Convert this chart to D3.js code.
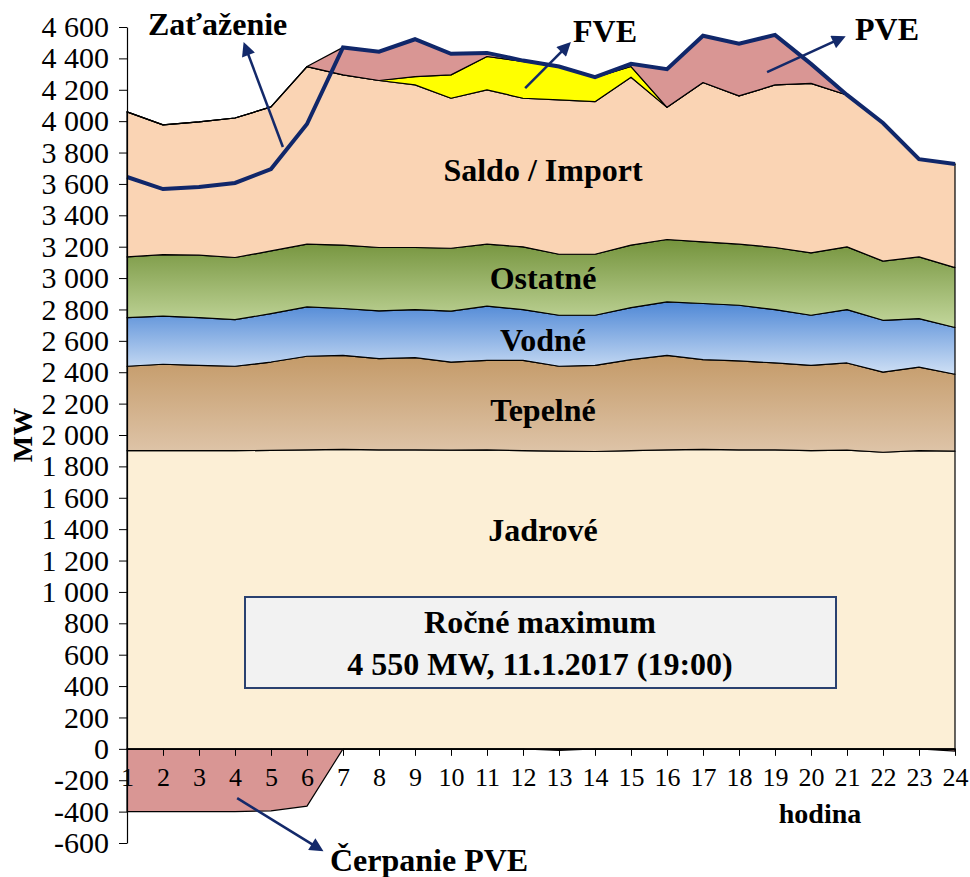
<!DOCTYPE html>
<html><head><meta charset="utf-8">
<script src="https://cdn.jsdelivr.net/npm/d3@7"></script>
<style>body{margin:0;background:#fff} svg{display:block}</style>
</head><body><svg id="c" width="970" height="877"></svg>
<script>
// ---- DATA (MW per hour) ----
const hours = d3.range(1, 25);
const jadrove   = [1900,1900,1900,1900,1902,1905,1908,1905,1905,1903,1905,1900,1897,1895,1900,1905,1908,1905,1905,1900,1903,1890,1900,1897];
const tepelne   = [538,551,544,538,563,597,600,582,588,562,571,576,541,549,580,603,572,567,554,544,556,511,533,490];
const vodne     = [310,306,304,297,308,314,298,304,306,324,345,323,325,319,332,340,358,355,340,319,340,330,309,298];
const ostatne   = [387,392,398,396,400,400,404,404,396,401,395,400,389,389,398,398,393,389,396,398,400,377,393,382];
const saldo     = [924,827,849,889,918,1132,1085,1064,1036,956,983,947,983,972,1070,842,1015,945,1036,1080,968,880,623,660];
const fve       = [0,0,0,0,0,0,0,0,53,149,213,234,213,154,68,0,0,0,0,0,0,0,0,0];
const pve       = [0,0,0,0,0,0,175,184,238,134,20,5,0,0,17,243,298,332,319,124,0,0,0,0];
const cerpanie  = [-400,-400,-400,-400,-395,-365,0,0,0,0,0,0,-10,0,0,0,0,0,0,0,0,0,0,-15];
const zatazenie = [3644,3567,3580,3606,3695,3982,4470,4443,4522,4429,4435,4386,4348,4280,4365,4331,4544,4493,4550,4365,4167,3988,3758,3727];
const yTickValues = d3.range(-600, 4601, 200);
const seriesNames = {jadrove:"Jadrové", tepelne:"Tepelné", vodne:"Vodné", ostatne:"Ostatné", saldo:"Saldo / Import", fve:"FVE", pve:"PVE"};

const table = hours.map((h, i) => ({hodina: h, jadrove: jadrove[i], tepelne: tepelne[i], vodne: vodne[i],
  ostatne: ostatne[i], saldo: saldo[i], fve: fve[i], pve: pve[i], cerpanie: cerpanie[i], zatazenie: zatazenie[i]}));

// ---- SETUP ----
const svg = d3.select("#c");
const x = d3.scalePoint().domain(hours).range([127, 955]);
const xl = d3.scaleLinear().domain([1, 24]).range([127, 955]);
const y = d3.scaleLinear().domain([-600, 4600]).range([843, 27]);
const loc = d3.formatLocale({decimal: ",", thousands: "\u00a0", grouping: [3], currency: ["", " €"], minus: "-"});
const fmt = loc.format(",");
const serif = "'Liberation Serif','Times New Roman',serif";

const defs = svg.append("defs");
function grad(id, top, bottom) {
  const g = defs.append("linearGradient").attr("id", id).attr("x1", 0).attr("y1", 0).attr("x2", 0).attr("y2", 1);
  g.append("stop").attr("offset", "0%").attr("stop-color", top);
  g.append("stop").attr("offset", "100%").attr("stop-color", bottom);
}
grad("gOst", "#74933c", "#c3d79c");
grad("gVod", "#4f88d6", "#cfe0f5");
grad("gTep", "#c49a68", "#dec4a8");
defs.append("marker").attr("id", "arr").attr("viewBox", "0 0 10 10").attr("refX", 7).attr("refY", 5)
  .attr("markerWidth", 6).attr("markerHeight", 5.5).attr("orient", "auto").attr("markerUnits", "strokeWidth")
  .append("path").attr("d", "M0,0L10,5L0,10z").attr("fill", "#13296a");

const keys = ["jadrove", "tepelne", "vodne", "ostatne", "saldo", "fve", "pve"];
const fills = {jadrove: "#fcefd6", tepelne: "url(#gTep)", vodne: "url(#gVod)", ostatne: "url(#gOst)",
  saldo: "#fad4b4", fve: "#ffff00", pve: "#d99694"};
const stack = d3.stack().keys(keys)(table);

const area = d3.area().x(d => x(d.data.hodina)).y0(d => y(d[0])).y1(d => y(d[1]));
svg.append("g").selectAll("path").data(stack).join("path")
  .attr("d", area).attr("fill", d => fills[d.key])
  .attr("stroke", "#000").attr("stroke-width", 1.2).attr("stroke-linejoin", "round");

// pumping (negative)
svg.append("path").datum(table)
  .attr("d", d3.area().x(d => x(d.hodina)).y0(y(0)).y1(d => y(d.cerpanie)))
  .attr("fill", "#d99694").attr("stroke", "#000").attr("stroke-width", 1.2);

// load line
svg.append("path").datum(table)
  .attr("d", d3.line().x(d => x(d.hodina)).y(d => y(d.zatazenie)))
  .attr("fill", "none").attr("stroke", "#10276a").attr("stroke-width", 4).attr("stroke-linejoin", "miter");

// axes
const yAxis = svg.append("g").attr("transform", `translate(127,0)`)
  .call(d3.axisLeft(y).tickValues(yTickValues).tickFormat(fmt).tickSize(8).tickPadding(10).tickSizeOuter(0));
yAxis.select(".domain").attr("stroke", "#000").attr("stroke-width", 1.2);
yAxis.selectAll("text").attr("font-family", serif).attr("font-size", 30).attr("fill", "#000");

const xAxis = svg.append("g").attr("transform", `translate(0,${y(0)})`)
  .call(d3.axisBottom(x).tickSize(7).tickPadding(12).tickSizeOuter(0));
xAxis.select(".domain").attr("stroke", "#000").attr("stroke-width", 1.2);
xAxis.selectAll("text").attr("font-family", serif).attr("font-size", 26).attr("fill", "#000");

// labels
function label(t, px, py, size = 32, anchor = "middle") {
  return svg.append("text").attr("x", px).attr("y", py).attr("text-anchor", anchor)
    .attr("font-family", serif).attr("font-weight", "bold").attr("font-size", size).attr("fill", "#000").text(t);
}
label(seriesNames.saldo, 543, 181);
label(seriesNames.ostatne, 543, 289);
label(seriesNames.vodne, 543, 351);
label(seriesNames.tepelne, 543, 421);
label(seriesNames.jadrove, 543, 541);
label("Zaťaženie", 148, 35, 32, "start");
label(seriesNames.fve, 573, 42, 32, "start");
label(seriesNames.pve, 855, 40, 32, "start");
label("Čerpanie PVE", 330, 871, 32, "start");
label("hodina", 820, 823, 28);
svg.append("text").attr("transform", "translate(32,435) rotate(-90)").attr("text-anchor", "middle")
  .attr("font-family", serif).attr("font-weight", "bold").attr("font-size", 28).text("MW");

// arrows
const arrows = [
  [[5.33, 3835], [4.28, 4479]],
  [[12.06, 4211], [13.25, 4485]],
  [[18.78, 4313], [20.86, 4530]],
  [[4.06, -314], [6.36, -639]]
];
arrows.forEach(([a, b]) => {
  svg.append("line").attr("x1", xl(a[0])).attr("y1", y(a[1])).attr("x2", xl(b[0])).attr("y2", y(b[1]))
    .attr("stroke", "#13296a").attr("stroke-width", 2.5).attr("marker-end", "url(#arr)");
});

// box
svg.append("rect").attr("x", 245).attr("y", 597).attr("width", 591).attr("height", 91)
  .attr("fill", "#f2f2f2").attr("stroke", "#2a4170").attr("stroke-width", 2);
label("Ročné maximum", 540, 633, 32);
label("4 550 MW, 11.1.2017 (19:00)", 540, 675, 32);
</script></body></html>
